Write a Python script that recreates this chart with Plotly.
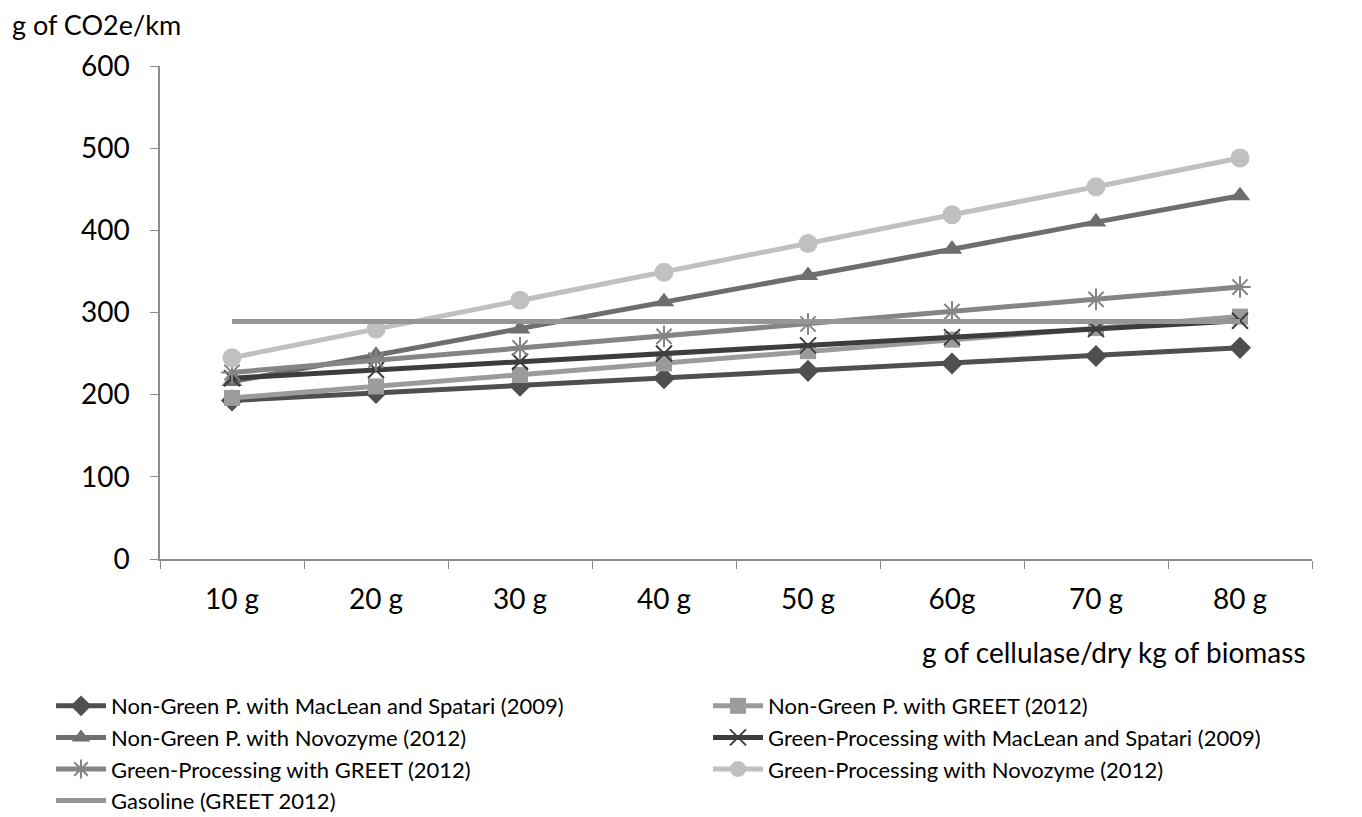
import plotly.graph_objects as go

categories = ["10 g", "20 g", "30 g", "40 g", "50 g", "60g", "70 g", "80 g"]

ng_maclean = [193, 202, 211, 220, 229, 238, 247, 257]
ng_greet = [196, 210, 224, 238, 253, 267, 281, 295]
ng_novozyme = [216, 248, 280, 313, 345, 377, 410, 442]
gp_maclean = [220, 230, 240, 250, 260, 270, 280, 290]
gp_greet = [227, 242, 257, 271, 286, 301, 316, 331]
gp_novozyme = [245, 280, 315, 349, 384, 419, 453, 488]
gasoline = [289, 289, 289, 289, 289, 289, 289, 289]

series = [
    ("Non-Green P. with MacLean and Spatari (2009)", ng_maclean, "#4f4f4f", "diamond", 17),
    ("Non-Green P. with GREET (2012)", ng_greet, "#9b9b9b", "square", 16),
    ("Non-Green P. with Novozyme (2012)", ng_novozyme, "#6e6e6e", "triangle-up", 18),
    ("Green-Processing with MacLean and Spatari (2009)", gp_maclean, "#3d3d3d", "x-thin-open", 16),
    ("Green-Processing with GREET (2012)", gp_greet, "#858585", "asterisk-open", 18),
    ("Green-Processing with Novozyme (2012)", gp_novozyme, "#c0c0c0", "circle", 19),
]

fig = go.Figure()
for name, vals, color, sym, size in series:
    marker = dict(symbol=sym, size=size, color=color)
    if sym.endswith("open"):
        marker["line"] = dict(color=color, width=2)
    fig.add_trace(go.Scatter(x=categories, y=vals, name=name, mode="lines+markers",
                             line=dict(color=color, width=5), marker=marker))
fig.add_trace(go.Scatter(x=categories, y=gasoline, name="Gasoline (GREET 2012)", mode="lines",
                         line=dict(color="#969696", width=5)))

font = "Lato, 'Open Sans', sans-serif"
fig.update_layout(
    width=1362, height=817,
    margin=dict(l=160, r=50, t=66, b=258, autoexpand=False),
    paper_bgcolor="white", plot_bgcolor="white",
    font=dict(family=font, size=28, color="black"),
    showlegend=True,
    legend=dict(orientation="h", xref="paper", yref="paper", x=-0.0946, y=-0.2556,
                xanchor="left", yanchor="top", font=dict(size=22),
                entrywidth=592, entrywidthmode="pixels", tracegroupgap=0,
                itemwidth=50, traceorder="normal", bgcolor="rgba(0,0,0,0)"),
    annotations=[
        dict(text="g of CO2e/km", xref="paper", yref="paper", x=-0.1302, y=1.085,
             xanchor="left", yanchor="middle", showarrow=False, font=dict(size=27)),
        dict(text="g of cellulase/dry kg of biomass", xref="paper", yref="paper", x=0.9965,
             y=-0.189, xanchor="right", yanchor="middle", showarrow=False, font=dict(size=28)),
    ],
)
fig.update_xaxes(showline=True, linecolor="#8c8c8c", linewidth=1.5, showgrid=False,
                 ticks="outside", tickson="boundaries", ticklen=8, tickcolor="#8c8c8c",
                 ticklabelstandoff=15, tickfont=dict(size=28), range=[-0.5, 7.5])
fig.update_yaxes(showline=True, linecolor="#8c8c8c", linewidth=1.5, showgrid=False,
                 ticks="outside", ticklen=8, tickcolor="#8c8c8c", range=[0, 600], dtick=100,
                 ticklabelstandoff=15, tickfont=dict(size=28), zeroline=False)

fig.write_html("out.html")
